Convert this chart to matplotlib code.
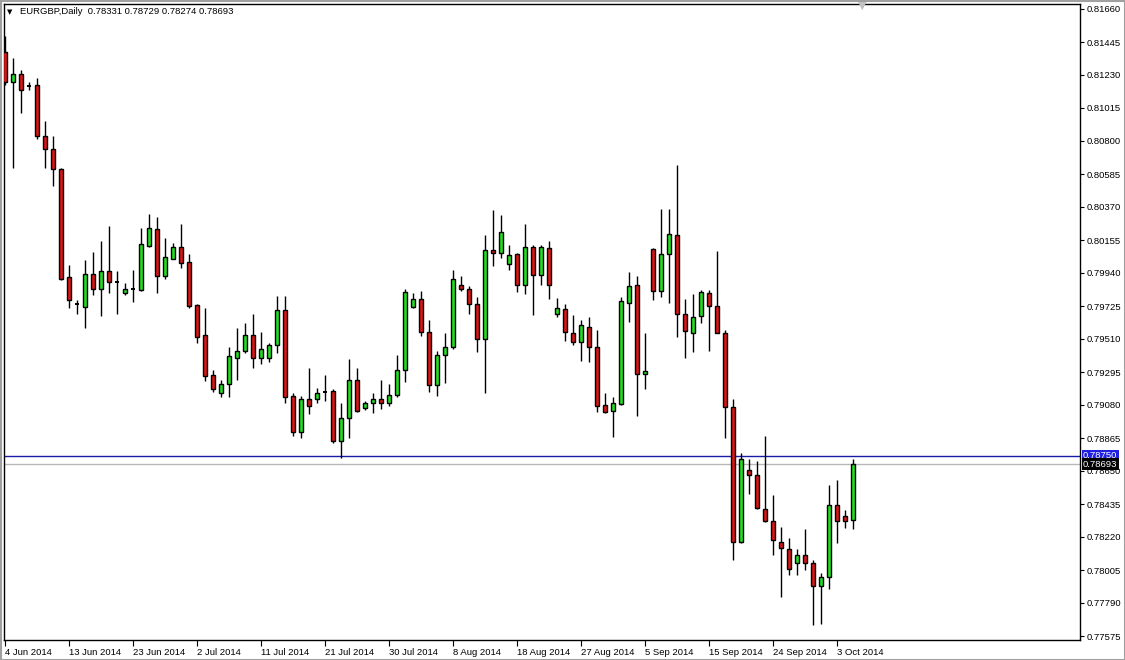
import matplotlib
matplotlib.use("Agg")
import matplotlib.pyplot as plt
import numpy as np
import pandas as pd
from matplotlib.patches import Rectangle
from matplotlib.transforms import blended_transform_factory

# ---------------- data ----------------
title_text = "EURGBP,Daily  0.78331 0.78729 0.78274 0.78693"

opens = [0.81380, 0.81184, 0.81235, 0.81158, 0.81163, 0.80832, 0.80746, 0.80617, 0.79911, 0.79737,
         0.79719, 0.79933, 0.79833, 0.79950, 0.79884, 0.79807, 0.79840, 0.79828, 0.80117, 0.80224,
         0.79921, 0.80032, 0.80107, 0.80011, 0.79730, 0.79535, 0.79274, 0.79155, 0.79220, 0.79389,
         0.79433, 0.79539, 0.79383, 0.79389, 0.79474, 0.79702, 0.79137, 0.78904, 0.79122, 0.79122,
         0.79163, 0.79172, 0.78846, 0.78998, 0.79241, 0.79063, 0.79090, 0.79116, 0.79096, 0.79148,
         0.79311, 0.79719, 0.79768, 0.79556, 0.79209, 0.79404, 0.79455, 0.79865, 0.79839, 0.79735,
         0.79513, 0.80089, 0.80068, 0.79996, 0.80063, 0.79865, 0.80111, 0.79924, 0.80100, 0.79676,
         0.79706, 0.79550, 0.79491, 0.79589, 0.79455, 0.79083, 0.79041, 0.79085, 0.79745, 0.79861,
         0.79279, 0.80096, 0.79822, 0.80061, 0.80185, 0.79676, 0.79552, 0.79659, 0.79807, 0.79728,
         0.79552, 0.79067, 0.78187, 0.78655, 0.78627, 0.78405, 0.78324, 0.78187, 0.78144, 0.78053,
         0.78105, 0.78053, 0.77898, 0.77959, 0.78431, 0.78359, 0.78331]
highs = [0.81484, 0.81343, 0.81263, 0.81186, 0.81209, 0.80930, 0.80832, 0.80622, 0.79991, 0.79761,
         0.80024, 0.80078, 0.80148, 0.80246, 0.79952, 0.79872, 0.79959, 0.80231, 0.80324, 0.80302,
         0.80165, 0.80137, 0.80259, 0.80063, 0.79737, 0.79713, 0.79307, 0.79241, 0.79459, 0.79582,
         0.79611, 0.79672, 0.79554, 0.79483, 0.79789, 0.79789, 0.79161, 0.79137, 0.79318, 0.79194,
         0.79274, 0.79187, 0.79090, 0.79378, 0.79318, 0.79106, 0.79161, 0.79246, 0.79220, 0.79404,
         0.79835, 0.79807, 0.79822, 0.79633, 0.79433, 0.79546, 0.79959, 0.79920, 0.79854, 0.79781,
         0.80187, 0.80350, 0.80317, 0.80122, 0.80071, 0.80259, 0.80122, 0.80122, 0.80150, 0.79774,
         0.79737, 0.79665, 0.79633, 0.79654, 0.79567, 0.79155, 0.79129, 0.79785, 0.79948, 0.79920,
         0.79546, 0.80100, 0.80354, 0.80354, 0.80643, 0.79768, 0.79802, 0.79828, 0.79828, 0.80084,
         0.79567, 0.79122, 0.78770, 0.78731, 0.78713, 0.78876, 0.78496, 0.78285, 0.78213, 0.78144,
         0.78270, 0.78068, 0.77985, 0.78561, 0.78589, 0.78394, 0.78729]
lows = [0.81165, 0.80626, 0.80982, 0.81132, 0.80811, 0.80622, 0.80508, 0.79893, 0.79709, 0.79674,
        0.79579, 0.79796, 0.79661, 0.79807, 0.79674, 0.79796, 0.79752, 0.79824, 0.80107, 0.79811,
        0.79904, 0.80028, 0.79970, 0.79715, 0.79485, 0.79237, 0.79165, 0.79129, 0.79133, 0.79246,
        0.79422, 0.79322, 0.79350, 0.79361, 0.79416, 0.79090, 0.78878, 0.78865, 0.79024, 0.79090,
        0.79106, 0.78833, 0.78735, 0.78868, 0.79035, 0.79046, 0.79028, 0.79057, 0.79074, 0.79129,
        0.79230, 0.79715, 0.79530, 0.79165, 0.79139, 0.79224, 0.79442, 0.79824, 0.79676, 0.79426,
        0.79155, 0.79985, 0.80035, 0.79959, 0.79817, 0.79802, 0.79665, 0.79861, 0.79770, 0.79654,
        0.79498, 0.79474, 0.79367, 0.79361, 0.79035, 0.79030, 0.78872, 0.79078, 0.79622, 0.79009,
        0.79187, 0.79763, 0.79785, 0.79742, 0.79520, 0.79383, 0.79426, 0.79611, 0.79433, 0.79548,
        0.78865, 0.78068, 0.78180, 0.78503, 0.78405, 0.78317, 0.78105, 0.77829, 0.77975, 0.77975,
        0.78007, 0.77644, 0.77655, 0.77883, 0.78183, 0.78281, 0.78274]
closes = [0.81184, 0.81237, 0.81130, 0.81155, 0.80832, 0.80746, 0.80615, 0.79900, 0.79761, 0.79733,
          0.79933, 0.79839, 0.79950, 0.79882, 0.79880, 0.79839, 0.79836, 0.80128, 0.80231, 0.79921,
          0.80041, 0.80107, 0.80002, 0.79724, 0.79526, 0.79269, 0.79187, 0.79220, 0.79398, 0.79435,
          0.79533, 0.79383, 0.79448, 0.79474, 0.79702, 0.79133, 0.78904, 0.79122, 0.79074, 0.79159,
          0.79167, 0.78844, 0.78998, 0.79241, 0.79041, 0.79090, 0.79116, 0.79093, 0.79148, 0.79311,
          0.79813, 0.79771, 0.79556, 0.79209, 0.79409, 0.79455, 0.79902, 0.79839, 0.79735, 0.79513,
          0.80089, 0.80068, 0.80204, 0.80056, 0.79859, 0.80111, 0.79924, 0.80107, 0.79865, 0.79715,
          0.79556, 0.79491, 0.79600, 0.79455, 0.79074, 0.79035, 0.79090, 0.79757, 0.79854, 0.79279,
          0.79300, 0.79822, 0.80061, 0.80191, 0.79676, 0.79561, 0.79654, 0.79815, 0.79728, 0.79552,
          0.79067, 0.78187, 0.78731, 0.78627, 0.78409, 0.78324, 0.78198, 0.78148, 0.78014, 0.78105,
          0.78053, 0.77900, 0.77959, 0.78431, 0.78327, 0.78322, 0.78693]

first_date = "2014-06-04"
last_date = "2014-10-06"
tick_dates = ["2014-06-04", "2014-06-13", "2014-06-23", "2014-07-02", "2014-07-11",
              "2014-07-21", "2014-07-30", "2014-08-08", "2014-08-18", "2014-08-27",
              "2014-09-05", "2014-09-15", "2014-09-24", "2014-10-03"]
tick_labels = ["4 Jun 2014", "13 Jun 2014", "23 Jun 2014", "2 Jul 2014", "11 Jul 2014",
               "21 Jul 2014", "30 Jul 2014", "8 Aug 2014", "18 Aug 2014", "27 Aug 2014",
               "5 Sep 2014", "15 Sep 2014", "24 Sep 2014", "3 Oct 2014"]
price_ticks = [0.81660, 0.81445, 0.81230, 0.81015, 0.80800, 0.80585, 0.80370, 0.80155,
               0.79940, 0.79725, 0.79510, 0.79295, 0.79080, 0.78865, 0.78650, 0.78435,
               0.78220, 0.78005, 0.77790, 0.77575]
hline_level = 0.78750
last_price = 0.78693

# ---------------- figure ----------------
W, H = 1125, 660
fig = plt.figure(figsize=(W / 100, H / 100), dpi=100)
fig.patch.set_facecolor("white")
FONT = "Liberation Sans"
FS = 6.8

ax_l, ax_r, ax_t, ax_b = 4, 1080, 4, 640
ax = fig.add_axes([ax_l / W, 1 - ax_b / H, (ax_r - ax_l) / W, (ax_b - ax_t) / H])
ax.set_facecolor("white")

dates = pd.date_range(first_date, last_date, freq="D")
dates = dates[dates.dayofweek != 5]   # MT4 daily bars incl. Sunday, no Saturday
n = len(opens)
xs = np.arange(n)

bull = "#22e022"
bear = "#dd1515"
bw = 0.62
for i in range(n):
    o, h, l, c = opens[i], highs[i], lows[i], closes[i]
    ax.vlines(xs[i], l, h, color="black", lw=1.0, zorder=2)
    if abs(c - o) < 0.00006:
        ax.hlines((o + c) / 2, xs[i] - bw / 2, xs[i] + bw / 2, color="black", lw=1.4, zorder=3)
    else:
        col = bull if c > o else bear
        ax.add_patch(Rectangle((xs[i] - bw / 2, min(o, c)), bw, abs(c - o),
                               facecolor=col, edgecolor="black", lw=1.0, zorder=3))

# x scale: bar i at pixel 5 + 8*i
ax.set_xlim((ax_l - 5) / 8, (ax_r - 5) / 8)
slope = (price_ticks[0] - price_ticks[-1]) / (636 - 9)
ax.set_ylim(price_ticks[-1] - (ax_b - 636) * slope, price_ticks[0] + (9 - ax_t) * slope)

# horizontal lines
ax.axhline(last_price, color="#b8b8b8", lw=1.0, zorder=1)
ax.axhline(hline_level, color="#1a1aa8", lw=1.0, zorder=1)

# axes styling
for s in ax.spines.values():
    s.set_color("black")
    s.set_linewidth(1.0)
ax.yaxis.tick_right()
ax.set_yticks(price_ticks)
ax.set_yticklabels([f"{p:.5f}" for p in price_ticks], fontsize=FS, fontname=FONT)
ax.tick_params(axis="y", direction="out", length=3, width=0.8, pad=2, colors="black")

tick_pos = dates.get_indexer(pd.to_datetime(tick_dates))
ax.set_xticks(tick_pos)
ax.set_xticklabels(tick_labels, fontsize=FS, fontname=FONT, ha="left")
ax.tick_params(axis="x", direction="out", length=4, width=0.8, pad=1.5, colors="black")

# price label boxes on the right
tr = blended_transform_factory(ax.transAxes, ax.transData)
ax.text(1.0 + 3 / (ax_r - ax_l), hline_level, f"{hline_level:.5f}", transform=tr,
        fontsize=FS, fontname=FONT, color="white", va="center", ha="left", zorder=10,
        bbox=dict(boxstyle="square,pad=0.15", facecolor="#2020e0", edgecolor="none"),
        clip_on=False)
ax.text(1.0 + 3 / (ax_r - ax_l), last_price, f"{last_price:.5f}", transform=tr,
        fontsize=FS, fontname=FONT, color="white", va="center", ha="left", zorder=11,
        bbox=dict(boxstyle="square,pad=0.15", facecolor="black", edgecolor="none"),
        clip_on=False)

# title text with small triangle
fig.text(10 / W, 1 - 12 / H, "\u25BC", fontsize=5, color="black", va="center", ha="center",
         fontname="DejaVu Sans")
fig.text(20 / W, 1 - 12 / H, title_text, fontsize=FS, fontname=FONT, color="black",
         va="center", ha="left")

# chart-shift marker at the top
fig.text(862 / W, 1 - 6 / H, "\u25BC", fontsize=8, color="#c0c0c0", va="center", ha="center",
         fontname="DejaVu Sans")

# outer window frame
fig.patches.append(Rectangle((0.5 / W, 0.5 / H), 1 - 1 / W, 1 - 1 / H, transform=fig.transFigure,
                             fill=False, edgecolor="#a0a0a0", lw=1.5))

fig.savefig("out.png", dpi=100, facecolor="white")
